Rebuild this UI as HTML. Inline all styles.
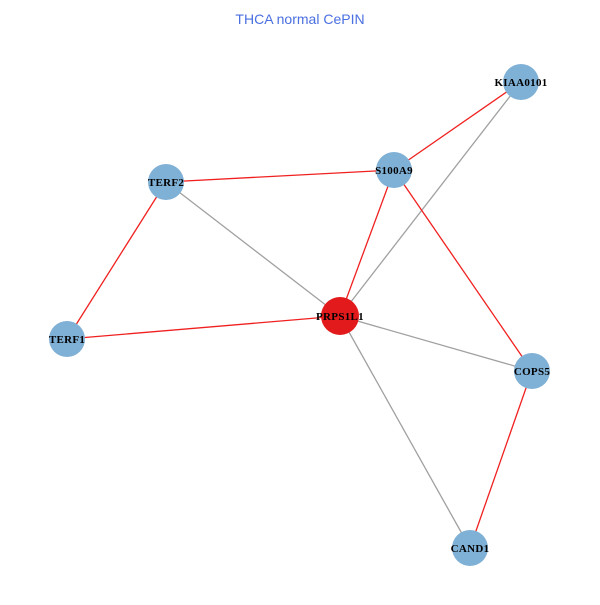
<!DOCTYPE html>
<html><head><meta charset="utf-8"><style>body{margin:0;background:#fff}</style></head>
<body>
<svg width="600" height="600" xmlns="http://www.w3.org/2000/svg">
<rect width="600" height="600" fill="#fff"/>
<text x="300" y="24" text-anchor="middle" font-family="Liberation Sans, sans-serif" font-size="14" fill="#4a6fe0">THCA normal CePIN</text>
<g stroke-width="1.3">
<line x1="340" y1="316" x2="521" y2="82" stroke="#a0a0a0"/>
<line x1="340" y1="316" x2="166" y2="182" stroke="#a0a0a0"/>
<line x1="340" y1="316" x2="532" y2="371" stroke="#a0a0a0"/>
<line x1="340" y1="316" x2="470" y2="548" stroke="#a0a0a0"/>
<line x1="521" y1="82" x2="394" y2="170" stroke="#f02020"/>
<line x1="166" y1="182" x2="394" y2="170" stroke="#f02020"/>
<line x1="166" y1="182" x2="67" y2="339" stroke="#f02020"/>
<line x1="67" y1="339" x2="340" y2="316" stroke="#f02020"/>
<line x1="394" y1="170" x2="340" y2="316" stroke="#f02020"/>
<line x1="394" y1="170" x2="532" y2="371" stroke="#f02020"/>
<line x1="532" y1="371" x2="470" y2="548" stroke="#f02020"/>
</g>
<g fill="#7fb0d5">
<circle cx="521" cy="82" r="18"/>
<circle cx="394" cy="170" r="18"/>
<circle cx="166" cy="182" r="18"/>
<circle cx="67" cy="339" r="18"/>
<circle cx="532" cy="371" r="18"/>
<circle cx="470" cy="548" r="18"/>
</g>
<circle cx="340" cy="316" r="19" fill="#e31a1c"/>
<g font-family="Liberation Serif, serif" font-size="11" font-weight="bold" fill="#000" text-anchor="middle" letter-spacing="0.3">
<text x="521" y="86">KIAA0101</text>
<text x="394" y="174">S100A9</text>
<text x="166" y="186">TERF2</text>
<text x="67" y="343">TERF1</text>
<text x="532" y="375">COPS5</text>
<text x="470" y="552">CAND1</text>
<text x="340" y="320">PRPS1L1</text>
</g>
</svg>
</body></html>
